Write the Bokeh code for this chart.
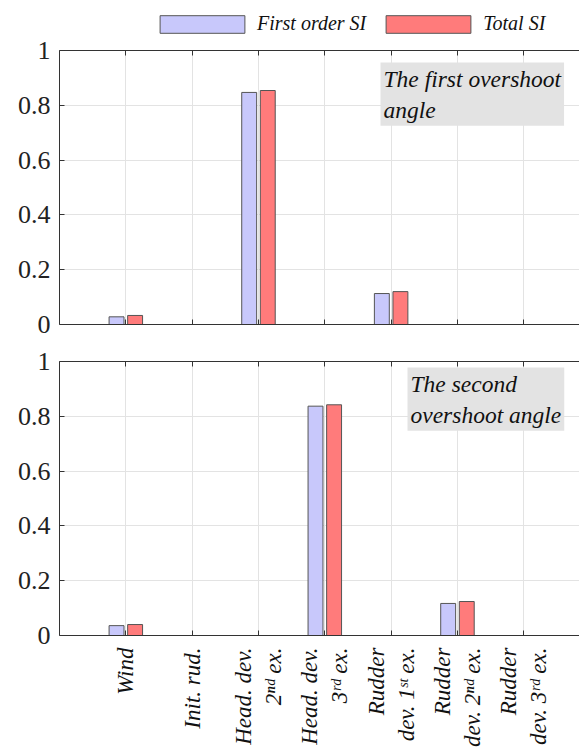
import math
from bokeh.plotting import figure
from bokeh.models import Range1d, FixedTicker, LinearAxis, Legend, LegendItem, Label
from bokeh.layouts import column
from bokeh.embed import file_html
from bokeh.resources import INLINE

# ---- data ----
categories = ["Wind", "Init. rud.", "Head. dev.\n2\u207f\u1d48 ex.", "Head. dev.\n3\u02b3\u1d48 ex.",
              "Rudder\ndev. 1\u02e2\u1d57 ex.", "Rudder\ndev. 2\u207f\u1d48 ex.", "Rudder\ndev. 3\u02b3\u1d48 ex."]
cat_pos = [1, 2, 3, 4, 5, 6, 7]
first_si_1 = [0.028, 0.0, 0.847, 0.0, 0.113, 0.0, 0.0]
total_si_1 = [0.033, 0.0, 0.854, 0.0, 0.120, 0.0, 0.0]
first_si_2 = [0.036, 0.0, 0.0, 0.837, 0.0, 0.117, 0.0]
total_si_2 = [0.040, 0.0, 0.0, 0.842, 0.0, 0.124, 0.0]
y_ticks = [0, 0.2, 0.4, 0.6, 0.8, 1]
y_tick_labels = ["0", "0.2", "0.4", "0.6", "0.8", "1"]
series_names = ["First order SI", "Total SI"]
panel_titles = ["The first overshoot\nangle", "The second\novershoot angle"]

BLUE = "#c8c8fb"
RED = "#ff7b7b"
EDGE = "#555555"
AXIS = "#333333"
GRID = "#e3e3e3"
FONT = "Liberation Serif"
OFF = 0.14
BW = 0.225


def make_panel(height, top_b, bottom_b, first, total, show_labels):
    p = figure(width=579, height=height, x_range=Range1d(0, 7.84), y_range=Range1d(0, 1),
               output_backend="svg", toolbar_location=None,
               min_border_left=59, min_border_right=0,
               min_border_top=top_b, min_border_bottom=bottom_b)
    p.outline_line_color = None
    p.background_fill_color = "white"
    p.border_fill_color = "white"

    p.vbar(x=[c - OFF for c in cat_pos], top=first, bottom=0, width=BW,
           fill_color=BLUE, line_color=EDGE, line_width=1)
    p.vbar(x=[c + OFF for c in cat_pos], top=total, bottom=0, width=BW,
           fill_color=RED, line_color=EDGE, line_width=1)

    xa = p.xaxis[0]
    xa.ticker = FixedTicker(ticks=cat_pos)
    xa.axis_line_color = AXIS
    xa.major_tick_line_color = AXIS
    xa.major_tick_in = 5
    xa.major_tick_out = 0
    xa.minor_tick_line_color = None
    if show_labels:
        xa.major_label_overrides = {c: lab for c, lab in zip(cat_pos, categories)}
        xa.major_label_orientation = math.pi / 2
        xa.major_label_text_font = FONT
        xa.major_label_text_font_style = "italic"
        xa.major_label_text_font_size = "23px"
        xa.major_label_text_color = "#111111"
        xa.major_label_standoff = 12
    else:
        xa.major_label_text_font_size = "0px"
        xa.major_label_standoff = 0

    ya = p.yaxis[0]
    ya.ticker = FixedTicker(ticks=y_ticks)
    ya.major_label_overrides = {t: lab for t, lab in zip(y_ticks, y_tick_labels)}
    ya.axis_line_color = AXIS
    ya.major_tick_line_color = AXIS
    ya.major_tick_in = 5
    ya.major_tick_out = 0
    ya.minor_tick_line_color = None
    ya.major_label_text_font = FONT
    ya.major_label_text_font_size = "26px"
    ya.major_label_text_color = "#222222"
    ya.major_label_standoff = 9

    top_axis = LinearAxis(ticker=FixedTicker(ticks=cat_pos), major_label_text_font_size="0px",
                          major_label_standoff=0, major_tick_in=5, major_tick_out=0,
                          axis_line_color=AXIS, major_tick_line_color=AXIS,
                          minor_tick_line_color=None)
    p.add_layout(top_axis, "above")

    p.xgrid.ticker = FixedTicker(ticks=cat_pos)
    p.xgrid.grid_line_color = GRID
    p.ygrid.ticker = FixedTicker(ticks=y_ticks)
    p.ygrid.grid_line_color = GRID
    return p


# legend strip: proxy bars drawn from the data but scrolled out of view
pl = figure(width=579, height=36, x_range=Range1d(-30, -29), y_range=Range1d(0, 1),
            output_backend="svg", toolbar_location=None, min_border=0,
            x_axis_location=None, y_axis_location=None)
pl.grid.visible = False
pl.outline_line_color = None
k1 = pl.vbar(x=[c - OFF for c in cat_pos], top=first_si_1, width=BW,
             fill_color=BLUE, line_color=EDGE, line_width=1)
k2 = pl.vbar(x=[c + OFF for c in cat_pos], top=total_si_1, width=BW,
             fill_color=RED, line_color=EDGE, line_width=1)
legend = Legend(items=[LegendItem(label=series_names[0], renderers=[k1]),
                       LegendItem(label=series_names[1], renderers=[k2])],
                orientation="horizontal", location=(90, 1),
                glyph_width=106, glyph_height=22, label_standoff=2, spacing=9,
                padding=0, margin=0, border_line_color=None, background_fill_alpha=0,
                label_text_font=FONT, label_text_font_style="italic",
                label_text_font_size="20px", label_text_color="#111111")
pl.add_layout(legend, "center")

p1 = make_panel(306, 14, 18, first_si_1, total_si_1, False)
p2 = make_panel(409, 19, 116, first_si_2, total_si_2, True)

lab1 = Label(x=321, y=262, x_units="screen", y_units="screen", text=panel_titles[0],
             text_font=FONT, text_font_style="italic", text_font_size="23.5px",
             text_color="#111111", text_align="left", text_baseline="top",
             background_fill_color="#e3e3e3", padding=3)
p1.add_layout(lab1)
lab2 = Label(x=348, y=268, x_units="screen", y_units="screen", text=panel_titles[1],
             text_font=FONT, text_font_style="italic", text_font_size="23.5px",
             text_color="#111111", text_align="left", text_baseline="top",
             background_fill_color="#e3e3e3", padding=3)
p2.add_layout(lab2)

layout = column(pl, p1, p2, spacing=0)
open("out.html", "w").write(file_html(layout, INLINE))
